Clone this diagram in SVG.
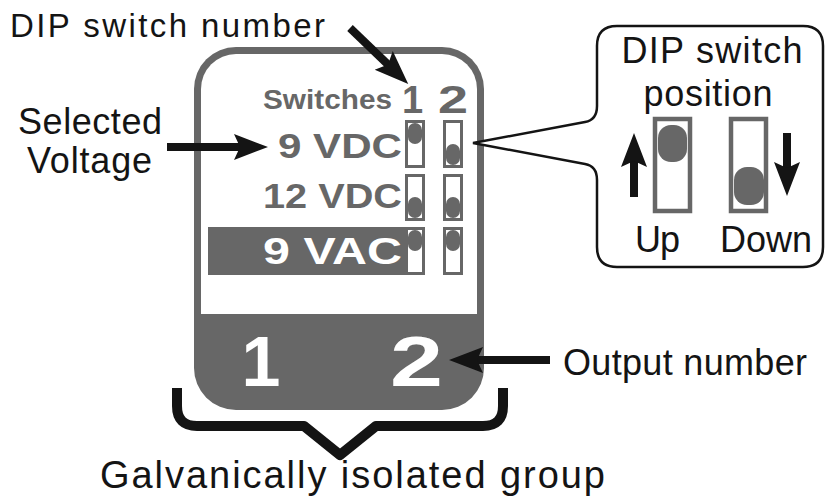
<svg xmlns="http://www.w3.org/2000/svg" width="827" height="502" viewBox="0 0 827 502" font-family="'Liberation Sans', Arial, sans-serif">
<style>
.lbl{font-size:36px;fill:#141414}
.tech{font-weight:bold;fill:#676767}
.sw{fill:#fff;stroke:#676767;stroke-width:3}
.knob{fill:#676767}
.arr{stroke:#141414;stroke-width:8;fill:none;marker-end:url(#ah)}
</style>
<defs>
<marker id="ah" markerUnits="userSpaceOnUse" markerWidth="60" markerHeight="60" viewBox="-20 -20 60 40" refX="0" refY="0" orient="auto">
<path d="M26,0 L-8,-13 L-2,0 L-8,13 Z" fill="#141414"/>
</marker>
</defs>
<rect width="827" height="502" fill="#fff"/>

<g id="module">
<rect x="194" y="47" width="290" height="363" rx="42" fill="#676767"/>
<path d="M201,314 V89 A35,35 0 0 1 236,54 H442 A35,35 0 0 1 477,89 V314 Z" fill="#fff"/>
<text class="tech" x="263" y="109" font-size="28" textLength="129" lengthAdjust="spacingAndGlyphs">Switches</text>
<text class="tech" x="412.5" y="113" font-size="38" text-anchor="middle">1</text>
<text class="tech" x="438" y="113" font-size="38" textLength="30" lengthAdjust="spacingAndGlyphs">2</text>
<text class="tech" x="278" y="158" font-size="35" textLength="124" lengthAdjust="spacingAndGlyphs">9 VDC</text>
<text class="tech" x="263" y="208" font-size="35" textLength="139" lengthAdjust="spacingAndGlyphs">12 VDC</text>
<rect x="208" y="227" width="198" height="48" fill="#676767"/>
<text class="tech" x="263" y="264" font-size="36" textLength="139" lengthAdjust="spacingAndGlyphs" style="fill:#fff">9 VAC</text>
<text class="tech" x="261" y="386" font-size="70" text-anchor="middle" style="fill:#fff">1</text>
<text class="tech" x="390" y="386" font-size="70" textLength="53" lengthAdjust="spacingAndGlyphs" style="fill:#fff">2</text>
</g>

<g id="switch-row1">
<rect class="sw" x="406.5" y="121.5" width="17" height="45"/>
<rect class="knob" x="408" y="123" width="14" height="21" rx="7"/>
<rect class="sw" x="444.5" y="121.5" width="17" height="45"/>
<rect class="knob" x="446" y="144" width="14" height="21" rx="7"/>
</g>
<g id="switch-row2">
<rect class="sw" x="406.5" y="175.5" width="17" height="44"/>
<rect class="knob" x="408" y="197" width="14" height="21" rx="7"/>
<rect class="sw" x="444.5" y="175.5" width="17" height="44"/>
<rect class="knob" x="446" y="197" width="14" height="21" rx="7"/>
</g>
<g id="switch-row3">
<rect class="sw" x="406.5" y="228.5" width="17" height="45"/>
<rect class="knob" x="408" y="230" width="14" height="21" rx="7"/>
<rect class="sw" x="444.5" y="228.5" width="17" height="45"/>
<rect class="knob" x="446" y="230" width="14" height="21" rx="7"/>
</g>

<g id="callout">
<path d="M617,26 H803 Q823,26 823,46 V247 Q823,267 803,267 H617 Q597,267 597,247 V180 Q597,166 585,164 L473,143 L585,122 Q597,120 597,106 V46 Q597,26 617,26 Z" fill="#fff" stroke="#141414" stroke-width="2.5"/>
<text class="lbl" x="712" y="63" text-anchor="middle" textLength="181">DIP switch</text>
<text class="lbl" x="708" y="106" text-anchor="middle" textLength="129">position</text>
<rect x="655" y="119" width="35" height="92" fill="#fff" stroke="#676767" stroke-width="4.5"/>
<rect x="658" y="125" width="29" height="37" rx="13" fill="#676767"/>
<rect x="731" y="119" width="35" height="92" fill="#fff" stroke="#676767" stroke-width="4.5"/>
<rect x="734" y="167" width="30" height="38" rx="13" fill="#676767"/>
<text class="lbl" x="635" y="252" textLength="45">Up</text>
<text class="lbl" x="720" y="252" textLength="92">Down</text>
</g>

<g id="connectors">
<line class="arr" x1="350" y1="28" x2="389.5" y2="66"/>
<line class="arr" x1="167" y1="147" x2="242" y2="147"/>
<line class="arr" x1="550" y1="360" x2="475" y2="360"/>
<line class="arr" x1="634" y1="197" x2="634" y2="159"/>
<line class="arr" x1="787" y1="133" x2="787" y2="170"/>
</g>

<g id="bracket">
<path d="M177,388 V406 Q177,426 197,426 H304 L340,455 L376,426 H483 Q503,426 503,406 V388" fill="none" stroke="#141414" stroke-width="10" stroke-linejoin="round"/>
</g>

<g id="labels">
<text class="lbl" x="10" y="37" style="font-size:33px" textLength="315">DIP switch number</text>
<text class="lbl" x="18" y="134" textLength="144">Selected</text>
<text class="lbl" x="27" y="173" textLength="125">Voltage</text>
<text class="lbl" x="563" y="375" textLength="244">Output number</text>
<text class="lbl" x="100" y="488" style="font-size:38px" textLength="505">Galvanically isolated group</text>
</g>
</svg>
